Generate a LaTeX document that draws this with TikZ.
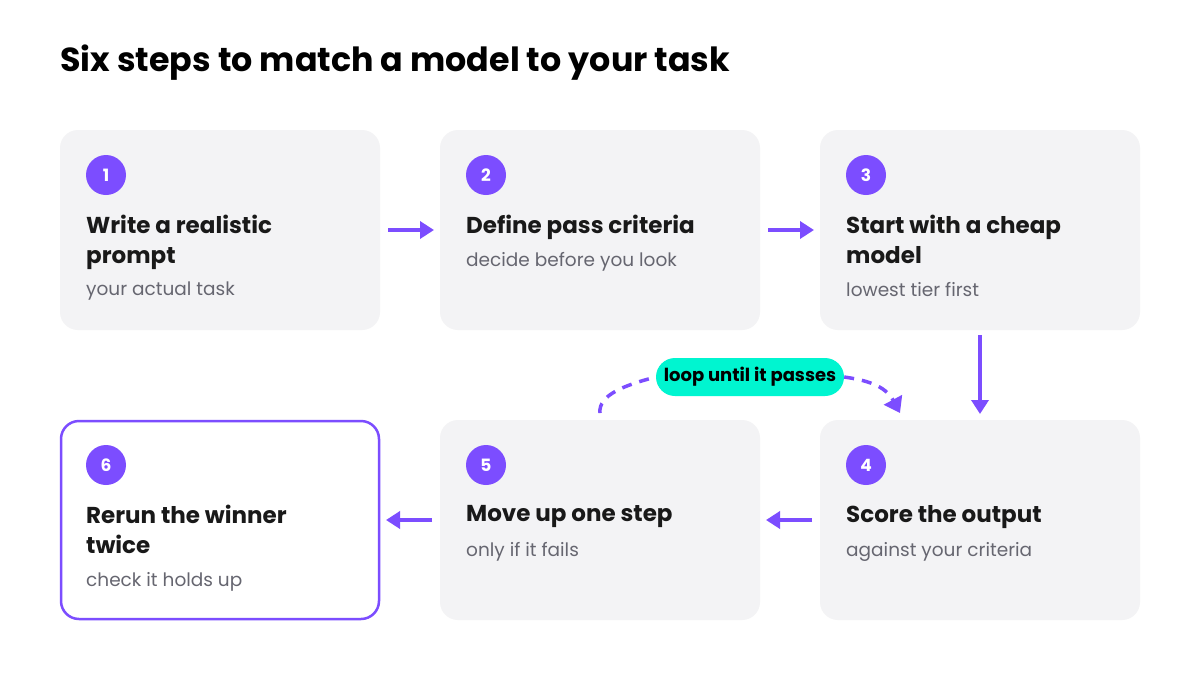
\documentclass[tikz,border=0pt]{standalone}
\usepackage{fontspec}
\setmainfont{Poppins}
\usetikzlibrary{arrows.meta}
\definecolor{pur}{HTML}{7C4DFF}
\definecolor{card}{HTML}{F3F3F5}
\definecolor{sub}{HTML}{666670}
\definecolor{teal}{HTML}{00F5D0}
\begin{document}
\begin{tikzpicture}[x=1pt,y=-1pt,
 card/.style={fill=card,rounded corners=18pt},
 num/.style={circle,fill=pur,minimum size=40pt,inner sep=0,text=white,font=\fontsize{17}{17}\selectfont\bfseries},
 ttl/.style={anchor=north west,align=left,inner sep=0,font=\fontsize{23}{30}\selectfont\bfseries,text=black!90},
 sb/.style={anchor=north west,inner sep=0,font=\fontsize{18.5}{22}\selectfont,text=sub},
 arr/.style={draw=pur,line width=3.5pt,-{Triangle[length=14pt,width=17pt]}}]
\useasboundingbox[fill=white] (0,0) rectangle (1200,675);
\node[anchor=west,inner sep=0,font=\fontsize{33.3}{36}\selectfont\bfseries] (title) at (60,63) {Six steps to match a model to your task};
% cards
\foreach \n/\x/\y/\t in {1/60/130/{Write a realistic\\prompt},
 2/440/130/{Define pass criteria},
 3/820/130/{Start with a cheap\\model},
 4/820/420/{Score the output},
 5/440/420/{Move up one step},
 6/60/420/{Rerun the winner\\twice}}{
 \ifnum\n=6
 \path[fill=white,draw=pur,line width=2.5pt,rounded corners=18pt] (\x+1,\y+1) rectangle (\x+319,\y+199);
 \else
 \path[card] (\x,\y) rectangle (\x+320,\y+200);
 \fi
 \node[num] (c\n) at (\x+46,\y+45) {\n};
 \node[ttl] (t\n) at (\x+26,\y+85) {\t};
}
\node[sb] (s1) at (86,282) {your actual task};
\node[sb] (s2) at (466,252) {decide before you look};
\node[sb] (s3) at (846,282) {lowest tier first};
\node[sb] (s4) at (846,542) {against your criteria};
\node[sb] (s5) at (466,542) {only if it fails};
\node[sb] (s6) at (86,572) {check it holds up};
\coordinate (a1) at (388,230); \coordinate (a2) at (434,230);
\coordinate (a3) at (768,230); \coordinate (a4) at (814,230);
\coordinate (a5) at (980,335); \coordinate (a6) at (980,414);
\coordinate (a7) at (812,520); \coordinate (a8) at (766,520);
\coordinate (a9) at (432,520); \coordinate (a10) at (386,520);
\draw[arr] (a1) -- (a2); \draw[arr] (a3) -- (a4); \draw[arr] (a5) -- (a6);
\draw[arr] (a7) -- (a8); \draw[arr] (a9) -- (a10);
\node[fill=teal,rounded corners=19pt,minimum width=188pt,minimum height=38pt,inner sep=0,font=\fontsize{18}{18}\selectfont\bfseries] (loop) at (750,377) {loop until it passes};
\coordinate (ls) at (600,413); \coordinate (le) at (900,413);
\draw[pur,line width=3.5pt,dash pattern=on 10pt off 8pt] (ls) .. controls (598,395) and (625,385) .. (loop.west);
\draw[pur,line width=3.5pt,dash pattern=on 10pt off 8pt,-{Triangle[length=15pt,width=20pt]}] (loop.east) .. controls (865,380) and (885,385) .. (le);
\end{tikzpicture}
\end{document}
